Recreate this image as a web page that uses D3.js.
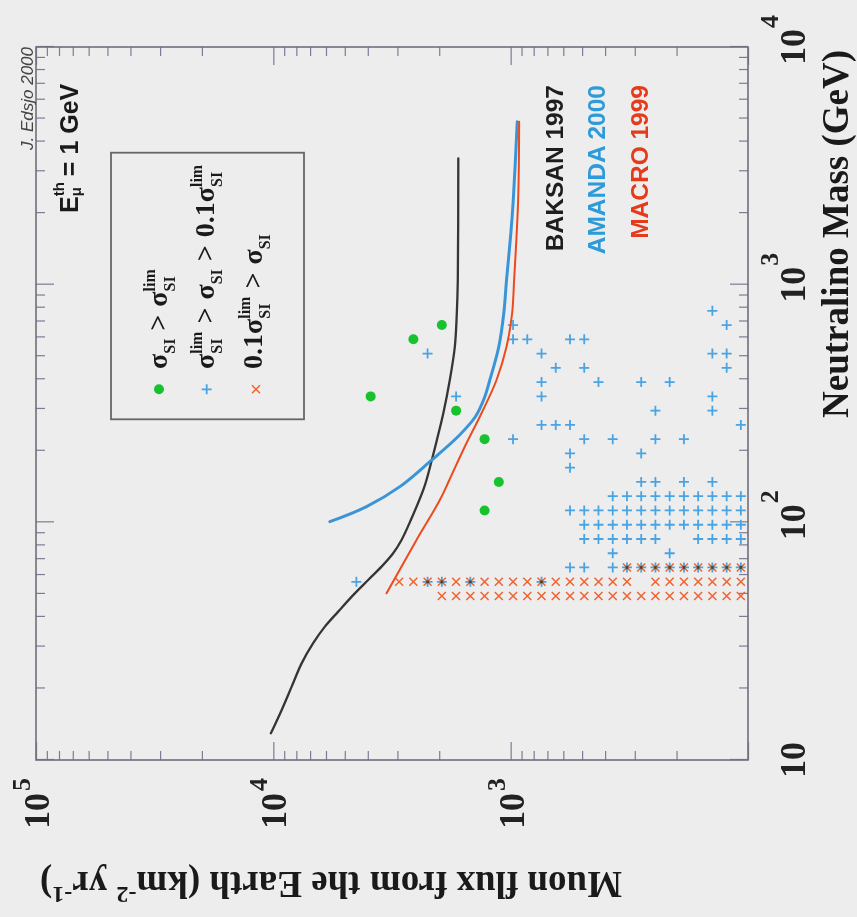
<!DOCTYPE html>
<html>
<head>
<meta charset="utf-8">
<script src="https://cdn.jsdelivr.net/npm/d3@7"></script>
<style>
  html, body { margin: 0; padding: 0; background: #ededed; }
  svg { display: block; }
  text { white-space: pre; }
</style>
</head>
<body>
<script>
// ---- limit curves (neutralino mass in GeV, muon flux in km^-2 yr^-1) ----
const baksanMass = [12.95, 16.2, 20.3, 25.5, 31.0, 36.4, 42.1, 49.4, 57.2, 65.1, 74.1, 84.3, 102.3, 141, 183, 222, 287.6, 397, 548, 760, 1046, 3401];
const baksanFlux = [10240, 9230, 8380, 7600, 6795, 6065, 5330, 4610, 3985, 3500, 3127, 2883, 2634, 2311, 2149, 2046, 1922, 1805, 1719, 1686, 1670, 1662];

const amandaMass = [100.6, 116.4, 141.3, 180, 229, 278, 337.8, 397, 548, 758, 1046, 1650, 2271, 4850];
const amandaFlux = [5777, 4048, 2930, 2191, 1670, 1409, 1285, 1224, 1122, 1069, 1041, 998, 975, 938];

const macroMass = [50.3, 84.3, 124.1, 150.7, 208, 287.6, 397, 548, 758, 1046, 2271, 4850];
const macroFlux = [3334, 2493, 1988, 1813, 1561, 1327, 1147, 1041, 986, 967, 930, 921];

// ---- model scan, binned: bin-centre masses and fluxes ----
const massBins = [49.0, 56.2, 64.6, 74.1, 85.1, 97.7, 112.2, 128.8, 147.9, 169.8, 195.0,
                  223.9, 257.0, 295.1, 338.8, 389.0, 446.7, 512.9, 588.8, 676.1, 776.2];
const fluxBins = [107.2, 123.0, 141.3, 162.2, 186.2, 213.8, 245.5, 281.8, 323.6, 371.5,
                  426.6, 489.8, 562.3, 645.7, 741.3, 851.1, 977.2, 1122, 1288, 1479,
                  1698, 1950, 2239, 2570, 2951, 3388, 3890, 4467];

// [mass bin, [flux bins]]  sigma_SI > sigma_SI^lim
const greenModels = [[19, [21]], [18, [23]], [14, [26]], [13, [20]], [11, [18]], [8, [17]], [6, [18]]];
// sigma_SI^lim > sigma_SI > 0.1 sigma_SI^lim
const blueModels = [
  [1, [14, 19, 21, 22, 27]],
  [2, [0, 1, 2, 3, 4, 5, 6, 7, 8, 9, 11, 12]],
  [3, [5, 9]],
  [4, [0, 1, 2, 3, 6, 7, 8, 9, 10, 11]],
  [5, [0, 1, 2, 3, 4, 5, 6, 7, 8, 9, 10, 11]],
  [6, [0, 1, 2, 3, 4, 5, 6, 7, 8, 9, 10, 11, 12]],
  [7, [0, 1, 2, 3, 4, 5, 6, 7, 8, 9]],
  [8, [2, 4, 6, 7]],
  [9, [12]],
  [10, [7, 12]],
  [11, [4, 6, 9, 11, 16]],
  [12, [0, 12, 13, 14]],
  [13, [2, 6]],
  [14, [2, 14, 20]],
  [15, [5, 7, 10, 14]],
  [16, [1, 11, 13]],
  [17, [1, 2, 14, 22]],
  [18, [11, 12, 15, 16]],
  [19, [1, 16]],
  [20, [2]]
];
// 0.1 sigma_SI^lim > sigma_SI
const redModels = [
  [0, [0, 1, 2, 3, 4, 5, 6, 7, 8, 9, 10, 11, 12, 13, 14, 15, 16, 17, 18, 19, 20, 21]],
  [1, [0, 1, 2, 3, 4, 5, 6, 8, 9, 10, 11, 12, 13, 14, 15, 16, 17, 18, 19, 20, 21, 22, 23, 24]],
  [2, [0, 1, 2, 3, 4, 5, 6, 7, 8]]
];

// ---- axes ----
const massMajor = [10, 100, 1000, 10000];
const massMinor = [20, 30, 40, 50, 60, 70, 80, 90, 200, 300, 400, 500, 600, 700, 800, 900,
                   2000, 3000, 4000, 5000, 6000, 7000, 8000, 9000];
const massTickBase = ["10", "10", "10", "10"];
const massTickExp = ["", "2", "3", "4"];
const fluxMajor = [100, 1000, 10000, 100000];
const fluxMinor = [200, 300, 400, 500, 600, 700, 800, 900, 2000, 3000, 4000, 5000, 6000, 7000, 8000, 9000,
                   20000, 30000, 40000, 50000, 60000, 70000, 80000, 90000];
const fluxLabelValues = [1000, 10000, 100000];
const fluxTickExp = ["3", "4", "5"];

const curveNames = ["BAKSAN 1997", "AMANDA 2000", "MACRO 1999"];

// ---- drawing ----
const W = 857, H = 917;
const svg = d3.select("body").append("svg").attr("width", W).attr("height", H);
svg.append("rect").attr("width", W).attr("height", H).attr("fill", "#ededed");

// The figure is set on its side: lay it out in a 917 x 857 frame and turn it a quarter turn.
const g = svg.append("g").attr("transform", `translate(0,${H}) rotate(-90)`);

const x = d3.scaleLog().domain([10, 1e4]).range([157, 870]);
const y = d3.scaleLog().domain([1e2, 1e5]).range([748, 36]);

const SERIF = "'Liberation Serif','Times New Roman',serif";
const SANS = "'Liberation Sans',Arial,Helvetica,sans-serif";
const tickColor = "#7c7c96";

function tickAxis(axisFn, scale, values, len, tf) {
  const a = g.append("g").attr("transform", tf)
    .call(axisFn(scale).tickValues(values).tickSize(-len).tickSizeOuter(0).tickFormat(() => ""));
  a.select(".domain").remove();
  a.selectAll("line").attr("stroke", tickColor).attr("stroke-width", 1.2);
}
// mass ticks on bottom and top, flux ticks on left and right, all pointing inward
tickAxis(d3.axisBottom, x, massMajor, 18, "translate(0,748)");
tickAxis(d3.axisBottom, x, massMinor, 9, "translate(0,748)");
tickAxis(d3.axisTop, x, massMajor, 18, "translate(0,36)");
tickAxis(d3.axisTop, x, massMinor, 9, "translate(0,36)");
tickAxis(d3.axisLeft, y, fluxMajor, 18, "translate(157,0)");
tickAxis(d3.axisLeft, y, fluxMinor, 9, "translate(157,0)");
tickAxis(d3.axisRight, y, fluxMajor, 18, "translate(870,0)");
tickAxis(d3.axisRight, y, fluxMinor, 9, "translate(870,0)");

// frame
g.append("rect").attr("x", x(10)).attr("y", y(1e5))
  .attr("width", x(1e4) - x(10)).attr("height", y(1e2) - y(1e5))
  .attr("fill", "none").attr("stroke", "#6f6f7c").attr("stroke-width", 1.6);

// mass tick labels
massMajor.forEach((m, i) => {
  const t = g.append("text").attr("x", x(m)).attr("y", 805).attr("text-anchor", "middle")
    .attr("font-family", SERIF).attr("font-weight", "bold").attr("font-size", 36).attr("fill", "#222")
    .text(massTickBase[i]);
  if (massTickExp[i]) {
    const w = t.node().getComputedTextLength();
    g.append("text").attr("x", x(m) + w / 2 + 1).attr("y", 778)
      .attr("font-family", SERIF).attr("font-weight", "bold").attr("font-size", 26).attr("fill", "#222")
      .text(massTickExp[i]);
  }
});
// flux tick labels
fluxLabelValues.forEach((f, i) => {
  g.append("text").attr("x", 124).attr("y", y(f) + 13).attr("text-anchor", "end")
    .attr("font-family", SERIF).attr("font-weight", "bold").attr("font-size", 36).attr("fill", "#222")
    .text("10");
  g.append("text").attr("x", 126).attr("y", y(f) - 6)
    .attr("font-family", SERIF).attr("font-weight", "bold").attr("font-size", 26).attr("fill", "#222")
    .text(fluxTickExp[i]);
});

// axis titles
g.append("text").attr("x", 867).attr("y", 848).attr("text-anchor", "end")
  .attr("font-family", SERIF).attr("font-weight", "bold").attr("font-size", 37).attr("fill", "#1a1a1a")
  .text("Neutralino Mass (GeV)");

const yt = g.append("text").attr("transform", "translate(45,40) rotate(-90)").attr("text-anchor", "end")
  .attr("font-family", SERIF).attr("font-weight", "bold").attr("font-size", 37).attr("fill", "#1a1a1a");
yt.append("tspan").text("Muon flux from the Earth (km");
yt.append("tspan").attr("font-size", 24).attr("dy", -15).text("-2");
yt.append("tspan").attr("dy", 15).text(" yr");
yt.append("tspan").attr("font-size", 24).attr("dy", -15).text("-1");
yt.append("tspan").attr("dy", 15).text(")");

// model points
const plus = "M-5,0H5M0,-5V5";
const cross = "M-4,-4L4,4M-4,4L4,-4";
const flat = rows => rows.flatMap(([mi, fis]) => fis.map(fi => [massBins[mi], fluxBins[fi]]));

const pts = g.append("g").style("isolation", "isolate");
pts.append("g").selectAll("path").data(flat(redModels)).join("path")
  .attr("transform", d => `translate(${x(d[0])},${y(d[1])})`).attr("d", cross)
  .attr("stroke", "#f0622f").attr("stroke-width", 1.5).attr("fill", "none")
  .style("mix-blend-mode", "multiply");
pts.append("g").selectAll("path").data(flat(blueModels)).join("path")
  .attr("transform", d => `translate(${x(d[0])},${y(d[1])})`).attr("d", plus)
  .attr("stroke", "#4aa3e3").attr("stroke-width", 1.8).attr("fill", "none")
  .style("mix-blend-mode", "multiply");
pts.append("g").selectAll("circle").data(flat(greenModels)).join("circle")
  .attr("cx", d => x(d[0])).attr("cy", d => y(d[1])).attr("r", 5)
  .attr("fill", "#16c22e");

// limit curves
const line = d3.line().x(d => x(d[0])).y(d => y(d[1])).curve(d3.curveCatmullRom.alpha(0.5));
const curves = [
  { m: baksanMass, f: baksanFlux, c: "#353535", w: 2.3 },
  { m: amandaMass, f: amandaFlux, c: "#3a95d8", w: 3 },
  { m: macroMass, f: macroFlux, c: "#ec4a1e", w: 2 }
];
curves.forEach(cv => {
  g.append("path").datum(d3.zip(cv.m, cv.f)).attr("d", line)
    .attr("fill", "none").attr("stroke", cv.c).attr("stroke-width", cv.w)
    .attr("stroke-linecap", "round");
});

// experiment names
const nameColors = ["#1e1e1e", "#2d9ad9", "#e63b1b"];
const nameY = [563, 605, 648];
curveNames.forEach((n, i) => {
  g.append("text").attr("x", 832).attr("y", nameY[i]).attr("text-anchor", "end")
    .attr("font-family", SANS).attr("font-weight", "bold").attr("font-size", 24.5)
    .attr("fill", nameColors[i]).text(n);
});

// typeset a line made of text runs, gaps and stacked sub/superscripts
function formula(x0, y0, parts, opt) {
  let cx = x0;
  const mk = (txt, xx, yy, size) => g.append("text").attr("x", xx).attr("y", yy)
    .attr("font-family", opt.family).attr("font-weight", "bold").attr("font-size", size)
    .attr("fill", opt.fill || "#1a1a1a").text(txt);
  parts.forEach(p => {
    if (p.gap) { cx += p.gap; return; }
    if (p.sub || p.sup) {
      let w = 0;
      if (p.sup) w = Math.max(w, mk(p.sup, cx, y0 + opt.supDy, opt.small).node().getComputedTextLength());
      if (p.sub) w = Math.max(w, mk(p.sub, cx, y0 + opt.subDy, opt.small).node().getComputedTextLength());
      cx += w;
      return;
    }
    cx += mk(p.t, cx, y0, opt.size).node().getComputedTextLength();
  });
}

// legend
g.append("rect").attr("x", 497.7).attr("y", 111).attr("width", 266.6).attr("height", 193)
  .attr("fill", "none").attr("stroke", "#666").attr("stroke-width", 1.8);
g.append("circle").attr("cx", 527.7).attr("cy", 159).attr("r", 5).attr("fill", "#16c22e");
g.append("path").attr("transform", "translate(527.7,206.7)").attr("d", plus)
  .attr("stroke", "#4aa3e3").attr("stroke-width", 1.8);
g.append("path").attr("transform", "translate(527.7,256)").attr("d", cross)
  .attr("stroke", "#f0622f").attr("stroke-width", 1.5);

const legOpt = { family: SERIF, size: 28, small: 16, subDy: 8, supDy: -12 };
formula(548, 167, [{ t: "σ" }, { sub: "SI" }, { gap: 8 }, { t: ">" }, { gap: 8 }, { t: "σ" }, { sub: "SI", sup: "lim" }], legOpt);
formula(548, 214, [{ t: "σ" }, { sub: "SI", sup: "lim" }, { gap: 8 }, { t: ">" }, { gap: 8 }, { t: "σ" }, { sub: "SI" },
                   { gap: 8 }, { t: ">" }, { gap: 8 }, { t: "0.1σ" }, { sub: "SI", sup: "lim" }], legOpt);
formula(548, 262, [{ t: "0.1σ" }, { sub: "SI", sup: "lim" }, { gap: 8 }, { t: ">" }, { gap: 8 }, { t: "σ" }, { sub: "SI" }], legOpt);

// threshold note
formula(704, 78, [{ t: "E" }, { sub: "μ", sup: "th" }, { gap: 6 }, { t: "= 1 GeV" }],
  { family: SANS, size: 25, small: 15, subDy: 3, supDy: -14 });

// credit
g.append("text").attr("x", 870).attr("y", 33).attr("text-anchor", "end")
  .attr("font-family", SANS).attr("font-style", "italic").attr("font-size", 17).attr("fill", "#444")
  .text("J. Edsjo 2000");
</script>
</body>
</html>
